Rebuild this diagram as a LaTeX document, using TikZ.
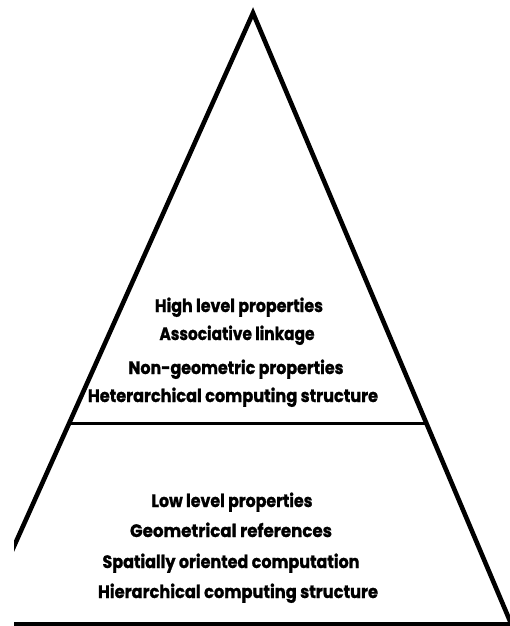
\documentclass[tikz,border=0pt]{standalone}
\usepackage{fontspec}
\setmainfont{Poppins}[BoldFeatures={FakeBold=1.2}]
\usepackage{graphicx}
% one drawing unit = 1pt, y grows downwards
\tikzset{
  x=1pt, y=-1pt,
  edge/.style={line width=4.6pt, line join=miter},
  divider/.style={line width=3pt},
  lbl/.style={anchor=base, inner sep=0pt,
    font=\fontsize{18}{21}\selectfont\bfseries},
}
% set a label to a given width, keeping its natural height
\newcommand\fitlbl[2]{\resizebox{#1}{\height}{#2}}
\begin{document}
\begin{tikzpicture}
\useasboundingbox (0,0) rectangle (510,626);
\coordinate (apex) at (253,13);
\coordinate (bl) at (-28,640);
\coordinate (br) at (518,640);
\coordinate (ml) at (69.4,423);
\coordinate (mr) at (425.8,423);
\coordinate (baseL) at (14,624);
\coordinate (baseR) at (510,624);
\begin{scope}
  \clip (14,0) rectangle (510,626);
  \draw[edge] (bl) -- (apex) -- (br);
  \draw[edge] (baseL) -- (baseR);
\end{scope}
\draw[divider] (ml) -- (mr);
% upper tier
\node[lbl] (h1) at (239,312) {\fitlbl{168pt}{High level properties}};
\node[lbl] (h2) at (237,340) {\fitlbl{155pt}{Associative linkage}};
\node[lbl] (h3) at (236,374) {\fitlbl{215pt}{Non-geometric properties}};
\node[lbl] (h4) at (233,402) {\fitlbl{290pt}{Heterarchical computing structure}};
% lower tier
\node[lbl] (l1) at (232,507) {\fitlbl{161pt}{Low level properties}};
\node[lbl] (l2) at (231,537) {\fitlbl{202pt}{Geometrical references}};
\node[lbl] (l3) at (231,568) {\fitlbl{257pt}{Spatially oriented computation}};
\node[lbl] (l4) at (238,598) {\fitlbl{280pt}{Hierarchical computing structure}};
\end{tikzpicture}
\end{document}
